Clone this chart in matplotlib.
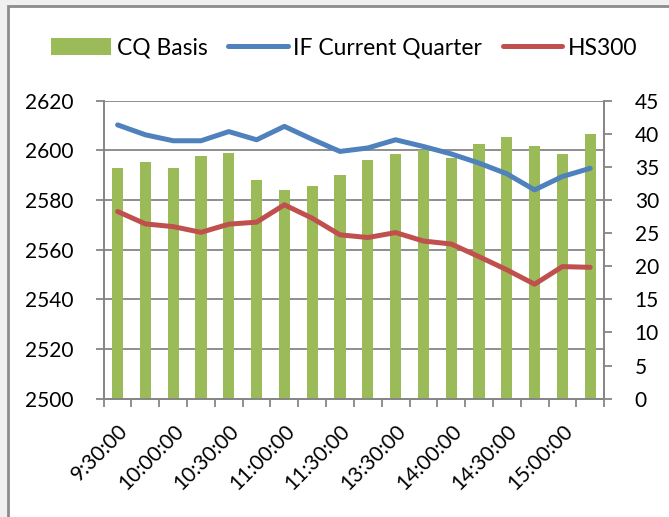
import matplotlib.pyplot as plt
import matplotlib.transforms as mtrans
from matplotlib.patches import Rectangle

plt.rcParams['font.family'] = ['Lato', 'DejaVu Sans']

times = ['9:30:00', '9:45:00', '10:00:00', '10:15:00', '10:30:00', '10:45:00',
         '11:00:00', '11:15:00', '11:30:00', '13:15:00', '13:30:00', '13:45:00',
         '14:00:00', '14:15:00', '14:30:00', '14:45:00', '15:00:00', '15:15:00']
cq_basis = [34.8, 35.7, 34.8, 36.7, 37.1, 33.0, 31.5, 32.2, 33.8,
            36.0, 37.0, 37.6, 36.3, 38.4, 39.5, 38.1, 36.9, 40.0]
if_cq = [2610.3, 2606.3, 2603.9, 2603.9, 2607.6, 2604.3, 2609.7, 2604.5, 2599.6,
         2601.0, 2604.3, 2601.6, 2598.6, 2594.9, 2590.6, 2584.1, 2589.5, 2592.8]
hs300 = [2575.4, 2570.4, 2569.3, 2567.0, 2570.3, 2571.1, 2578.1, 2572.7, 2566.0,
         2564.9, 2566.9, 2563.5, 2562.3, 2557.2, 2551.9, 2546.1, 2553.2, 2552.9]
left_ticks = [2500, 2520, 2540, 2560, 2580, 2600, 2620]
right_ticks = [0, 5, 10, 15, 20, 25, 30, 35, 40, 45]

green = '#9BBB59'
blue = '#4F81BD'
red = '#C0504D'
grey = '#868686'

fig = plt.figure(figsize=(6.69, 5.17), dpi=100)
fig.patches.append(Rectangle((0, 0), 1, 1, transform=fig.transFigure,
                             facecolor='#f0f0f0', edgecolor='none', zorder=-2))
fig.patches.append(Rectangle((8 / 669, -0.1), 1.2, 1 - 6 / 517 + 0.1,
                             transform=fig.transFigure, facecolor='white',
                             edgecolor='#8c8c8c', linewidth=2, zorder=-1))

ax = fig.add_axes([0.155, 0.229, 0.748, 0.576])
ax.patch.set_visible(False)
x = list(range(len(times)))

# bars on the right-hand scale
ax.bar(x, cq_basis, width=0.4, color=green, label='CQ Basis', zorder=2)
ax.set_ylim(0, 45)
ax.set_xlim(-0.5, len(times) - 0.5)
for t in left_ticks:
    ax.axhline((t - 2500) / 120 * 45, color=grey, lw=1.3, zorder=1)

ax2 = ax.twinx()
ax2.plot(x, if_cq, color=blue, lw=3.6, solid_capstyle='round', label='IF Current Quarter')
ax2.plot(x, hs300, color=red, lw=3.6, solid_capstyle='round', label='HS300')
ax2.set_ylim(2500, 2620)
ax2.set_yticks(left_ticks)
ax2.yaxis.tick_left()
ax.yaxis.tick_right()
ax.set_yticks(right_ticks)

for a in (ax, ax2):
    for s in a.spines.values():
        s.set_color(grey)
        s.set_linewidth(1.3)
    a.spines['top'].set_visible(False)
    a.tick_params(axis='y', colors=grey, length=6, width=1.3, labelsize=15,
                  labelcolor='black', pad=16)

ax.set_xticks(x[::2])
ax.set_xticklabels(times[::2], rotation=45, ha='right', rotation_mode='anchor')
shift = mtrans.ScaledTranslation(-11 / 100, 0, fig.dpi_scale_trans)
for lab in ax.get_xticklabels():
    lab.set_transform(lab.get_transform() + shift)
ax.set_xticks([i - 0.5 for i in range(len(times) + 1)], minor=True)
ax.tick_params(axis='x', which='major', length=0, labelsize=15, pad=16)
ax.tick_params(axis='x', which='minor', length=6, width=1.3, color=grey)

h1, l1 = ax.get_legend_handles_labels()
h2, l2 = ax2.get_legend_handles_labels()
fig.legend(h1 + h2, l1 + l2, loc='center', bbox_to_anchor=(0.515, 0.907), ncol=3,
           frameon=False, fontsize=16.5, handlelength=2.6, handletextpad=0.25,
           columnspacing=0.9, handleheight=0.75)

fig.savefig('out.png', dpi=100)
